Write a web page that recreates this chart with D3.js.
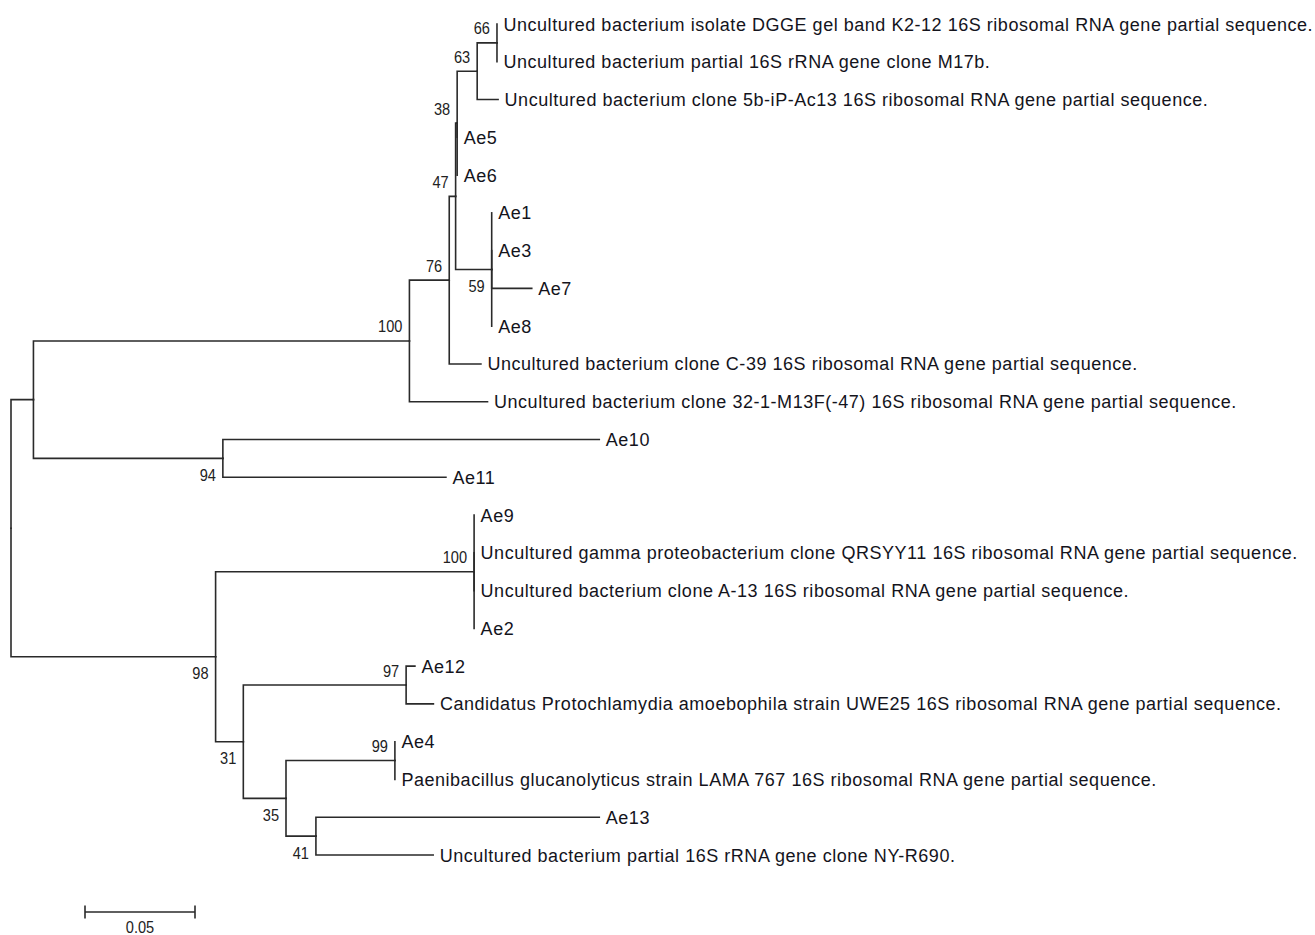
<!DOCTYPE html>
<html><head><meta charset="utf-8">
<script src="https://cdn.jsdelivr.net/npm/d3@7"></script>
<style>html,body{margin:0;padding:0;background:#fff;} svg{display:block}</style>
</head><body><svg id="chart" width="1315" height="935"></svg>
<script>
// ---- Data -------------------------------------------------------------
const leafKeys = ["K2-12","M17b","5b-iP-Ac13","Ae5","Ae6","Ae1","Ae3","Ae7","Ae8","C-39","32-1-M13F",
  "Ae10","Ae11","Ae9","QRSYY11","A-13","Ae2","Ae12","UWE25","Ae4","LAMA767","Ae13","NY-R690"];
const leafLabels = [
  "Uncultured bacterium isolate DGGE gel band K2-12 16S ribosomal RNA gene partial sequence.",
  "Uncultured bacterium partial 16S rRNA gene clone M17b.",
  "Uncultured bacterium clone 5b-iP-Ac13 16S ribosomal RNA gene partial sequence.",
  "Ae5","Ae6","Ae1","Ae3","Ae7","Ae8",
  "Uncultured bacterium clone C-39 16S ribosomal RNA gene partial sequence.",
  "Uncultured bacterium clone 32-1-M13F(-47) 16S ribosomal RNA gene partial sequence.",
  "Ae10","Ae11","Ae9",
  "Uncultured gamma proteobacterium clone QRSYY11 16S ribosomal RNA gene partial sequence.",
  "Uncultured bacterium clone A-13 16S ribosomal RNA gene partial sequence.",
  "Ae2","Ae12",
  "Candidatus Protochlamydia amoebophila strain UWE25 16S ribosomal RNA gene partial sequence.",
  "Ae4",
  "Paenibacillus glucanolyticus strain LAMA 767 16S ribosomal RNA gene partial sequence.",
  "Ae13",
  "Uncultured bacterium partial 16S rRNA gene clone NY-R690."
];
// [parent, child, branch length]
const branches = [
  ["R","A",0.0102], ["A","B",0.1709], ["B","C",0.0181], ["C","D",0.0029], ["D","E",0.0007],
  ["E","F",0.0091], ["F","G",0.0090], ["G","K2-12",0], ["G","M17b",0], ["F","5b-iP-Ac13",0.0095],
  ["E","Ae5",0], ["E","Ae6",0], ["D","H",0.0164], ["H","Ae1",0], ["H","Ae3",0], ["H","Ae7",0.0182],
  ["H","Ae8",0], ["C","C-39",0.0144], ["B","32-1-M13F",0.0355],
  ["A","I",0.0861], ["I","Ae10",0.1711], ["I","Ae11",0.1014],
  ["R","J",0.0930], ["J","K",0.1175], ["K","Ae9",0], ["K","QRSYY11",0], ["K","A-13",0], ["K","Ae2",0],
  ["J","L",0.0126], ["L","M",0.0740], ["M","Ae12",0.0040], ["M","UWE25",0.0124],
  ["L","N",0.0194], ["N","O",0.0495], ["O","Ae4",0], ["O","LAMA767",0],
  ["N","P",0.0136], ["P","Ae13",0.1288], ["P","NY-R690",0.0533]
];
const bootstrapNodes  = ["B","C","D","E","F","G","H","I","J","K","L","M","N","O","P"];
const bootstrapValues = [100,76,47,38,63,66,59,94,98,100,31,97,35,99,41];
const bootstrapBelow  = ["H","I","J","L","N","P"];
const scaleBarValue = 0.05;
const scaleBarLabel = "0.05";

// ---- Layout -----------------------------------------------------------
const svg = d3.select("#chart");
const rows = [{id:"R", parent:null, len:0}].concat(branches.map(([p,c,l]) => ({id:c, parent:p, len:l})));
const root = d3.stratify().id(d => d.id).parentId(d => d.parent)(rows);
root.eachBefore(n => { n.dist = n.parent ? n.parent.dist + n.data.len : 0; });

const x = d3.scaleLinear().domain([0, 0.27]).range([11, 11 + 0.27 * 2200]);
const y = d3.scaleLinear().domain([0, leafKeys.length - 1]).range([24, 855]);

root.eachAfter(n => {
  if (!n.children) n.py = y(leafKeys.indexOf(n.id));
  else { const ys = n.children.map(c => c.py); n.py = (d3.min(ys) + d3.max(ys)) / 2; }
});

const stroke = "#2a2a2a";
const g = svg.append("g");

// elbow links
g.selectAll("path.link").data(root.descendants().filter(n => n.parent))
  .join("path").attr("class","link")
  .attr("fill","none").attr("stroke",stroke).attr("stroke-width",1.6).attr("stroke-linecap","square")
  .attr("d", n => `M${x(n.parent.dist)},${n.parent.py}V${n.py}H${x(n.dist)}`);

// leaf labels
g.selectAll("text.leaf").data(root.leaves())
  .join("text").attr("class","leaf")
  .attr("x", n => x(n.dist) + 6.5).attr("y", n => n.py + 6.5)
  .attr("font-family","'Liberation Sans', Arial, sans-serif").attr("font-size",18)
  .attr("letter-spacing",0.53)
  .attr("fill","#14141c")
  .text(n => leafLabels[leafKeys.indexOf(n.id)]);

// bootstrap labels
const nodeById = new Map(root.descendants().map(n => [n.id, n]));
g.selectAll("text.boot").data(bootstrapNodes)
  .join("text").attr("class","boot")
  .attr("transform", (id) => {
    const n = nodeById.get(id);
    const cy = bootstrapBelow.includes(id) ? n.py + 16.5 : n.py - 14.5;
    return `translate(${x(n.dist) - 7},${cy + 6}) scale(1,1.18)`;
  })
  .attr("text-anchor","end")
  .attr("font-family","'Liberation Sans', Arial, sans-serif").attr("font-size",14.6)
  .attr("fill","#222")
  .text((id, i) => bootstrapValues[i]);

// scale bar
const sbY = 912, sbX0 = 85;
const sbX1 = sbX0 + (x(scaleBarValue) - x(0));
const sb = svg.append("g").attr("stroke",stroke).attr("stroke-width",1.6);
sb.append("line").attr("x1",sbX0).attr("x2",sbX1).attr("y1",sbY).attr("y2",sbY);
sb.append("line").attr("x1",sbX0).attr("x2",sbX0).attr("y1",sbY-6.5).attr("y2",sbY+6.5);
sb.append("line").attr("x1",sbX1).attr("x2",sbX1).attr("y1",sbY-6.5).attr("y2",sbY+6.5);
svg.append("text")
  .attr("transform", `translate(${(sbX0 + sbX1) / 2},${sbY + 20.5}) scale(1,1.18)`)
  .attr("text-anchor","middle")
  .attr("font-family","'Liberation Sans', Arial, sans-serif").attr("font-size",14.6)
  .attr("fill","#222").text(scaleBarLabel);
</script>
</body></html>
